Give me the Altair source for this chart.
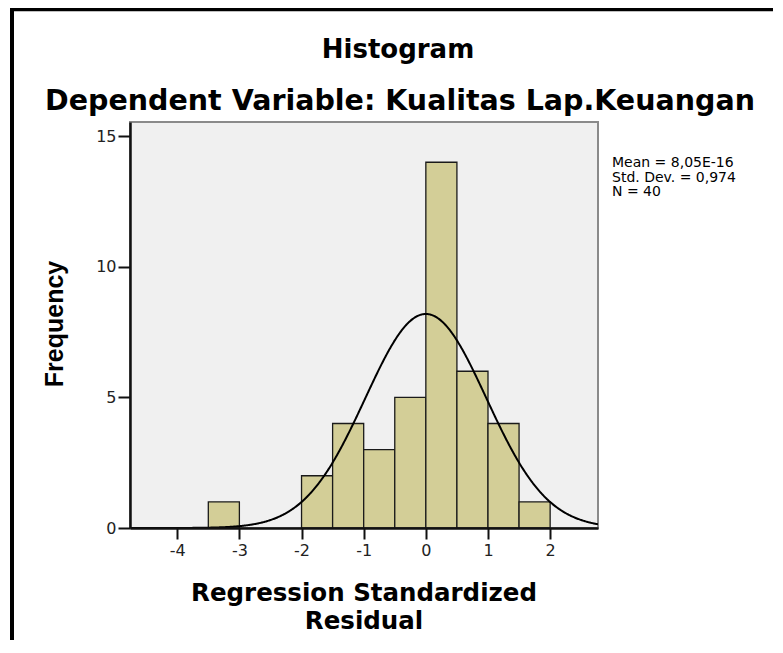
import altair as alt
import pandas as pd

# ---- data ----
bin_start = [-3.5, -2.0, -1.5, -1.0, -0.5, 0.0, 0.5, 1.0, 1.5]
bin_end = [-3.0, -1.5, -1.0, -0.5, 0.0, 0.5, 1.0, 1.5, 2.0]
frequency = [1, 2, 4, 3, 5, 14, 6, 4, 1]

x_ticks = [-4, -3, -2, -1, 0, 1, 2]
y_ticks = [0, 5, 10, 15]

mean_value = 8.05e-16
std_dev = 0.974
n_obs = 40
bin_width = 0.5

title_text = "Histogram"
subtitle_text = "Dependent Variable: Kualitas Lap.Keuangan"
x_title_lines = ["Regression Standardized", "Residual"]
y_title_text = "Frequency"
stats_lines = ["Mean = 8,05E-16", "Std. Dev. = 0,974", "N = 40"]

X_DOMAIN = [-4.76, 2.77]
Y_DOMAIN = [0, 15.54]

bars_df = pd.DataFrame({"start": bin_start, "end": bin_end, "count": frequency})
one = pd.DataFrame({"k": [0]})

x_scale = alt.Scale(domain=X_DOMAIN, nice=False, zero=False)
y_scale = alt.Scale(domain=Y_DOMAIN, nice=False, zero=True)

x_axis = alt.Axis(values=x_ticks, labelExpr="'' + datum.value", grid=False,
                  tickSize=11, tickWidth=2, tickColor="#111", domainColor="#111",
                  domainWidth=2.5, labelFont="DejaVu Sans", labelFontSize=16,
                  labelColor="#222", labelPadding=3, zindex=1)
y_axis = alt.Axis(values=y_ticks, labelExpr="'' + datum.value", grid=False,
                  tickSize=12, tickWidth=2, tickColor="#111", domainColor="#111",
                  domainWidth=2.5, labelFont="DejaVu Sans", labelFontSize=16,
                  labelColor="#222", labelPadding=2, zindex=1)

bars = alt.Chart(bars_df).mark_rect(
    fill="#D3CE97", stroke="#1a1a1a", strokeWidth=1.3, opacity=1
).encode(
    x=alt.X("start:Q", scale=x_scale, axis=x_axis, title=None),
    x2="end:Q",
    y=alt.Y("count:Q", scale=y_scale, axis=y_axis, title=None),
    y2=alt.datum(0),
)

peak = n_obs * bin_width / std_dev
curve = alt.Chart(alt.sequence(X_DOMAIN[0], X_DOMAIN[1] + 0.01, 0.01, as_="z")).transform_calculate(
    dens=f"{peak} / sqrt(2*PI) * exp(-0.5 * pow((datum.z - {mean_value}) / {std_dev}, 2))"
).mark_line(color="black", strokeWidth=2, clip=True).encode(
    x=alt.X("z:Q", scale=x_scale),
    y=alt.Y("dens:Q", scale=y_scale),
)

def txt(text, x, y, size, bold=True, font="DejaVu Sans", align="center", angle=0, line_height=None):
    kw = dict(text=text, font=font, fontSize=size, fontWeight="bold" if bold else "normal",
              align=align, baseline="alphabetic", color="black", angle=angle)
    if line_height is not None:
        kw["lineHeight"] = line_height
    return alt.Chart(one).mark_text(**kw).encode(x=alt.value(x), y=alt.value(y))

t_title = txt(title_text, 268, -64, 26)
t_sub = txt(subtitle_text, 270, -12, 28.5)
t_x = txt(x_title_lines, 234, 479, 24.5, line_height=28)
t_y = txt(y_title_text, -67, 202, 25, font="Liberation Sans", angle=270)
t_stats = txt(stats_lines, 482, 45, 14, bold=False, align="left", line_height=14.5)

frame_left = alt.Chart(one).mark_rule(color="black", strokeWidth=4).encode(
    x=alt.value(-118), y=alt.value(-114.5), y2=alt.value(700))
frame_top = alt.Chart(one).mark_rule(color="black", strokeWidth=3.5).encode(
    x=alt.value(-120), x2=alt.value(800), y=alt.value(-112.5))

chart = alt.layer(bars, curve, t_title, t_sub, t_x, t_y, t_stats, frame_left, frame_top).properties(
    width=468, height=406,
    autosize=alt.AutoSizeParams(type="none"),
    padding={"left": 122, "top": 114, "right": 175, "bottom": 112},
    background="white",
).configure_view(
    fill="#F0F0F0", stroke="#8a8a8a", strokeWidth=2
)

chart.save("out.html", embed_options={"renderer": "svg", "actions": False})
